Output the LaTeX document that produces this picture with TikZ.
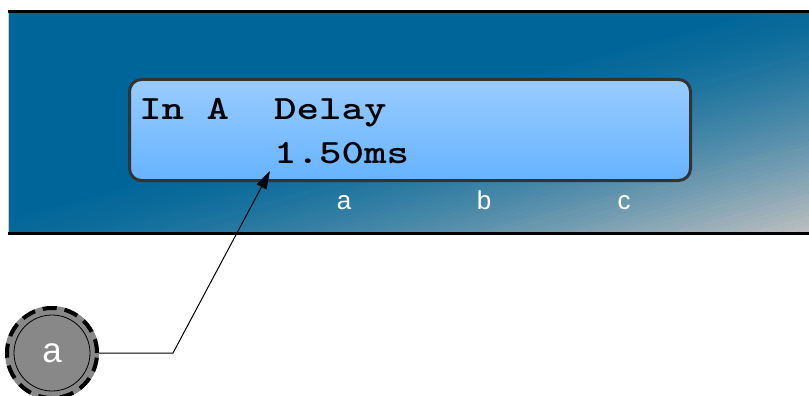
\documentclass[tikz,border=0pt]{standalone}
\usepackage{fontspec}
\setmainfont{Liberation Sans}
\usetikzlibrary{arrows.meta}

\definecolor{panelblue}{HTML}{006699}
\definecolor{panelgray}{HTML}{C0C0C0}
\definecolor{lcdtop}{HTML}{99CCFF}
\definecolor{lcdbottom}{HTML}{66B3FF}
\definecolor{lcdframe}{HTML}{333333}
\definecolor{dotgray}{HTML}{888888}

\newcommand{\lcdline}[1]{\scalebox{1.26}[1]{#1}}

\tikzset{
  lcdbox/.style={draw=lcdframe, line width=3pt, rounded corners=12pt,
    top color=lcdtop, bottom color=lcdbottom,
    minimum width=561pt, minimum height=101pt, inner sep=0pt},
  lcdtext/.style={font=\ttfamily\bfseries\fontsize{34}{40}\selectfont,
    anchor=base west, inner sep=0pt},
  keylabel/.style={text=white, font=\fontsize{26}{30}\selectfont,
    anchor=base, inner sep=0pt},
  keydot/.style={circle, minimum size=90pt, inner sep=0pt, fill=dotgray,
    text=white, font=\fontsize{35}{40}\selectfont,
    preaction={draw=dotgray, solid, line width=4pt},
    draw=black, line width=4pt, dash pattern=on 14pt off 8pt},
  pointer/.style={line width=1pt, -{Triangle[length=18pt,width=11pt]}}
}

\begin{document}
\begin{tikzpicture}[x=1pt, y=-1pt]
  \useasboundingbox (0,0) rectangle (809,396);

  % panel background
  \begin{scope}
    \clip (9,12) rectangle (809,233);
    \fill[panelblue] (9,12) rectangle (809,233);
    \foreach \i [evaluate=\i as \p using int(100*((\i+0.5)/55)^1.4)] in {0,...,54}
      \fill[panelgray!\p!panelblue] (-71+16*\i,233) -- (729+16*\i,12)
        -- (746+16*\i,12) -- (-54+16*\i,233) -- cycle;
  \end{scope}
  \draw[gray!40, line width=0.6pt] (8.5,12) -- (8.5,233);
  \draw[line width=3pt] (8,11.5) -- (809,11.5);
  \draw[line width=3pt] (8,233.5) -- (809,233.5);

  % display
  \node[lcdbox] (lcd) at (410,130) {};
  \node[lcdtext] (lineone) at (139,119) {\lcdline{In A\ \ Delay}};
  \node[lcdtext] (linetwo) at (139,163) {\lcdline{\hphantom{In A\ \ }1.50ms}};

  \foreach \k/\x in {a/344, b/484, c/624}
    \node[keylabel] (key\k) at (\x,209) {\k};

  % callout
  \node[keydot] (dot) at (52,353) {a};
  \draw[line width=0.8pt] (dot.center) circle (38pt);
  \coordinate (bend) at (173,353);
  \coordinate (tip) at (270,171);
  \draw[pointer] (dot.east) -- (bend) -- (tip);
\end{tikzpicture}
\end{document}
